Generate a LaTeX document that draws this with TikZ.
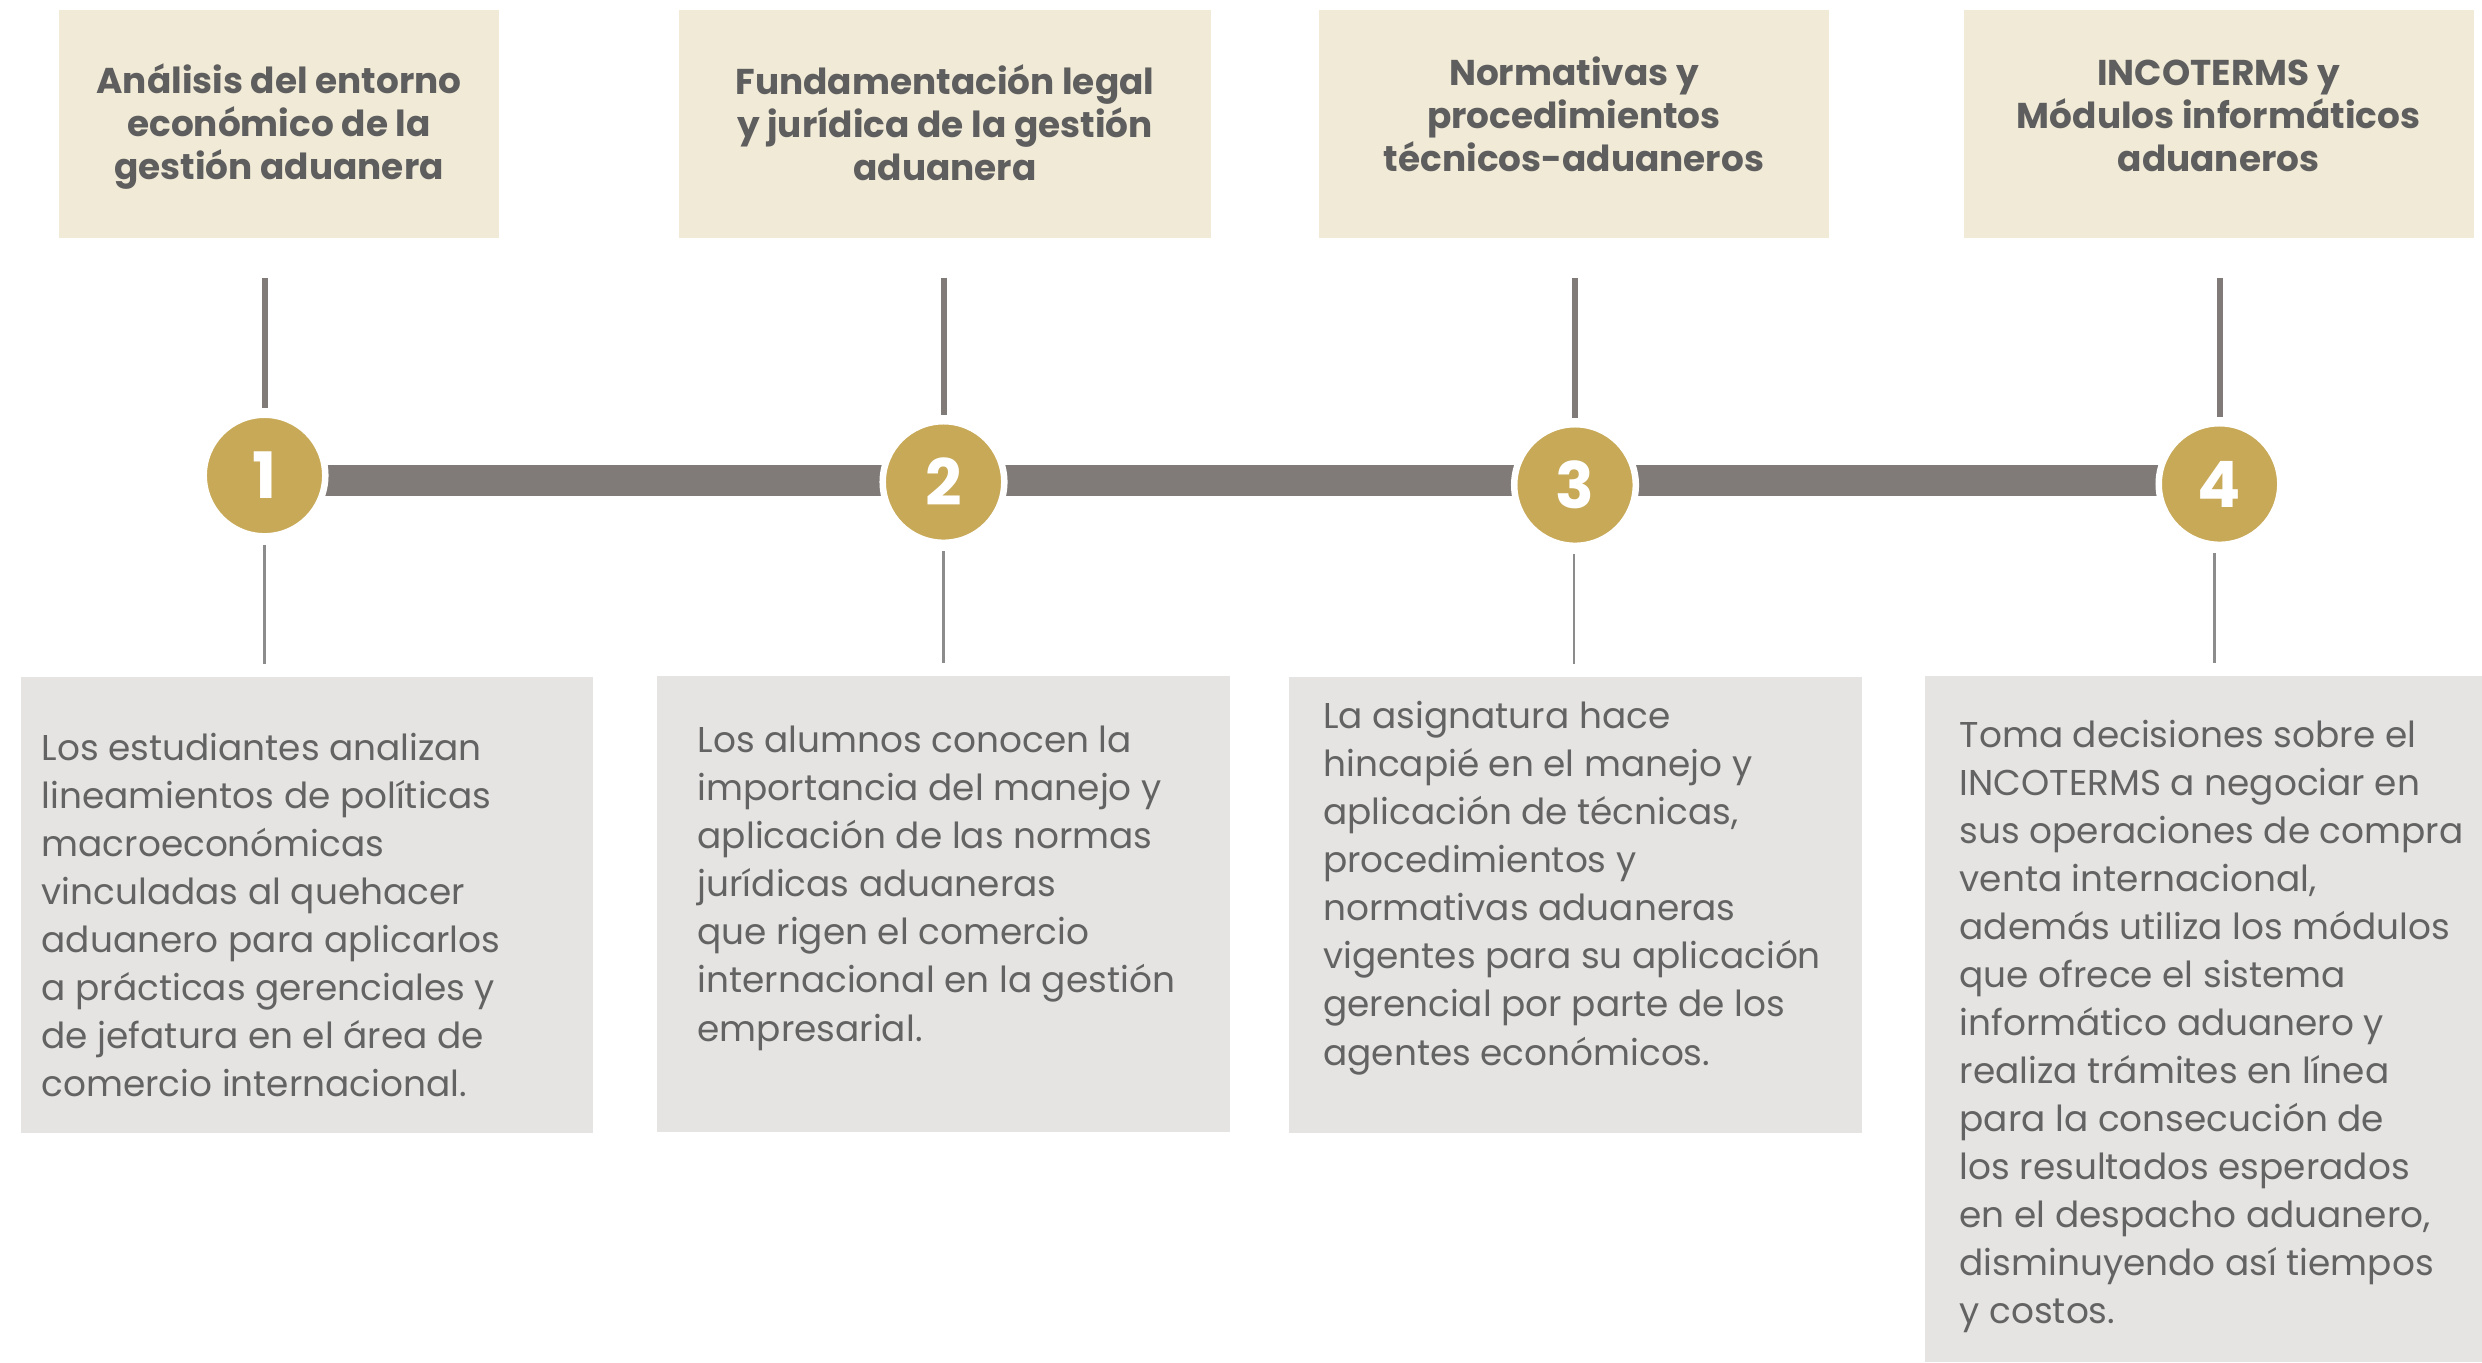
\documentclass[tikz,border=0pt]{standalone}
\usepackage{fontspec}
\setmainfont{Poppins}
\usetikzlibrary{calc}
\definecolor{gold}{HTML}{C7A957}
\definecolor{bargray}{HTML}{807B78}
\definecolor{thingray}{HTML}{8C8C8C}
\definecolor{titlefill}{HTML}{F1EAD7}
\definecolor{bodyfill}{HTML}{E5E4E2}
\definecolor{titletext}{HTML}{5E5E5E}
\definecolor{bodytext}{HTML}{636363}
\begin{document}
\begin{tikzpicture}[x=0.01cm,y=-0.01cm,
  titlebox/.style={fill=titlefill, draw=none, anchor=north west, inner sep=0, outer sep=0, minimum height=2.28cm},
  bodybox/.style={fill=bodyfill, draw=none, anchor=north west, inner sep=0, outer sep=0, minimum height=4.56cm},
  titletxt/.style={anchor=base, align=center, inner sep=0, text=titletext, font=\fontsize{10.2}{12.23}\selectfont\bfseries},
  bodytxt/.style={anchor=base west, align=left, inner sep=0, text=bodytext, font=\fontsize{10.2}{13.66}\selectfont},
  numcircle/.style={circle, fill=gold, draw=white, line width=0.065cm, minimum size=1.215cm, inner sep=0, text=white, font=\fontsize{18.2}{18.2}\selectfont\bfseries},
  bar/.style={draw=bargray, line width=0.31cm},
  upline/.style={draw=bargray, line width=0.06cm},
  downline/.style={draw=thingray, line width=0.025cm}
]
\useasboundingbox (0,0) rectangle (2482,1362);

% title boxes
\node[titlebox, minimum width=4.40cm] (t1) at (59,9.5) {};
\node[titlebox, minimum width=5.32cm] (t2) at (679,9.5) {};
\node[titlebox, minimum width=5.10cm] (t3) at (1319,9.5) {};
\node[titlebox, minimum width=5.10cm] (t4) at (1964,9.5) {};

% title texts (anchored at the baseline of the last line)
\node[titletxt] (tt1) at (279,179) {Análisis del entorno\\económico de la\\gestión aduanera};
\node[titletxt] (tt2) at (945,180.5) {Fundamentación legal\\y jurídica de la gestión\\aduanera};
\node[titletxt] (tt3) at (1574,171.6) {Normativas y\\procedimientos\\técnicos-aduaneros};
\node[titletxt] (tt4) at (2218.5,171) {INCOTERMS y\\Módulos informáticos\\aduaneros};

% body boxes
\node[bodybox, minimum width=5.72cm] (b1) at (21,677) {};
\node[bodybox, minimum width=5.73cm] (b2) at (657,676) {};
\node[bodybox, minimum width=5.73cm] (b3) at (1289,677) {};
\node[bodybox, minimum width=5.57cm, minimum height=6.86cm] (b4) at (1925,676) {};

% body texts (anchored at the baseline of the last line)
\node[bodytxt] (bt1) at (41,1096.5) {Los estudiantes analizan\\lineamientos de políticas\\macroeconómicas\\vinculadas al quehacer\\aduanero para aplicarlos\\a prácticas gerenciales y\\de jefatura en el área de\\comercio internacional.};
\node[bodytxt] (bt2) at (697,1041) {Los alumnos conocen la\\importancia del manejo y\\aplicación de las normas\\jurídicas aduaneras\\que rigen el comercio\\internacional en la gestión\\empresarial.};
\node[bodytxt] (bt3) at (1322.6,1065) {La asignatura hace\\hincapié en el manejo y\\aplicación de técnicas,\\procedimientos y\\normativas aduaneras\\vigentes para su aplicación\\gerencial por parte de los\\agentes económicos.};
\node[bodytxt] (bt4) at (1959,1323.6) {Toma decisiones sobre el\\INCOTERMS a negociar en\\sus operaciones de compra\\venta internacional,\\además utiliza los módulos\\que ofrece el sistema\\informático aduanero y\\realiza trámites en línea\\para la consecución de\\los resultados esperados\\en el despacho aduanero,\\disminuyendo así tiempos\\y costos.};

% timeline bar
\coordinate (barL) at (264,480.5);
\coordinate (barR) at (2219,480.5);
\draw[bar] (barL) -- (barR);

% circles
\node[numcircle] (c1) at (264.5,475.5) {1};
\node[numcircle] (c2) at (943.5,482) {2};
\node[numcircle] (c3) at (1575,485) {3};
\node[numcircle] (c4) at (2219.5,484) {4};

% connectors
\draw[upline] ($(c1 |- t1.south)+(0,40)$) -- ($(c1.north)+(0,-3)$);
\draw[upline] ($(c2 |- t2.south)+(0,40)$) -- ($(c2.north)+(0,-3)$);
\draw[upline] ($(c3 |- t3.south)+(0,40)$) -- ($(c3.north)+(0,-3)$);
\draw[upline] ($(c4 |- t4.south)+(0,40)$) -- ($(c4.north)+(0,-3)$);

\draw[downline] ($(c1.south)+(0,5)$) -- ($(c1 |- b1.north)+(0,-13)$);
\draw[downline] ($(c2.south)+(0,5)$) -- ($(c2 |- b2.north)+(0,-13)$);
\draw[downline] ($(c3.south)+(-1,5)$) -- ($(c3 |- b3.north)+(-1,-13)$);
\draw[downline] ($(c4.south)+(-5,5)$) -- ($(c4 |- b4.north)+(-5,-13)$);
\end{tikzpicture}
\end{document}
